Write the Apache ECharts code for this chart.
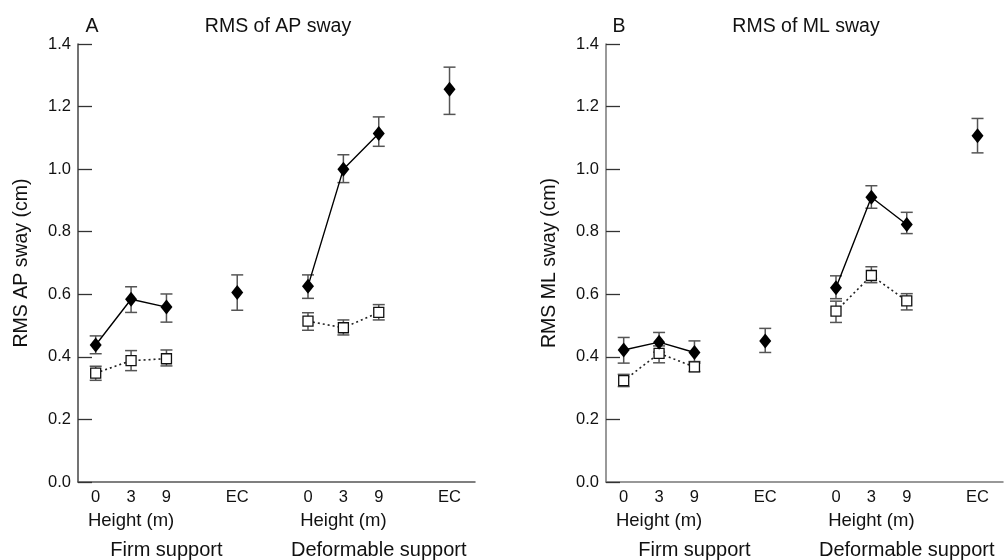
<!DOCTYPE html>
<html>
<head>
<meta charset="utf-8">
<script src="https://cdn.jsdelivr.net/npm/echarts@6/dist/echarts.min.js"></script>
<style>
  html, body { margin: 0; padding: 0; background: #fff; }
  #chart { width: 1004px; height: 560px; }
</style>
</head>
<body>
<div id="chart"></div>
<script>
// x slots: 0,3,9 firm | EC | 0,3,9 deformable | EC
const slotX = [0, 1, 2, 4, 6, 7, 8, 10]
const slotLabels = ['0', '3', '9', 'EC', '0', '3', '9', 'EC']
const heightX = [1, 7]
const heightLabels = ['Height (m)', 'Height (m)']
const supportX = [2, 8]
const supportLabels = ['Firm support', 'Deformable support']
const yTicks = [0, 0.2, 0.4, 0.6, 0.8, 1.0, 1.2, 1.4]

// panel A: RMS of AP sway (filled diamonds: 8 slots, open squares: 6 height slots)
const apFilled = [0.438, 0.584, 0.559, 0.606, 0.626, 1.000, 1.114, 1.255]
const apFilledLow = [0.410, 0.542, 0.511, 0.549, 0.587, 0.957, 1.073, 1.175]
const apFilledHigh = [0.467, 0.624, 0.601, 0.662, 0.662, 1.046, 1.167, 1.326]
const apOpen = [0.348, 0.388, 0.394, 0.514, 0.493, 0.542]
const apOpenLow = [0.325, 0.356, 0.371, 0.485, 0.470, 0.518]
const apOpenHigh = [0.370, 0.420, 0.422, 0.541, 0.518, 0.567]

// panel B: RMS of ML sway
const mlFilled = [0.422, 0.447, 0.414, 0.451, 0.621, 0.910, 0.823, 1.107]
const mlFilledLow = [0.380, 0.415, 0.380, 0.414, 0.586, 0.875, 0.794, 1.052]
const mlFilledHigh = [0.462, 0.478, 0.451, 0.491, 0.659, 0.947, 0.862, 1.162]
const mlOpen = [0.324, 0.411, 0.368, 0.546, 0.660, 0.579]
const mlOpenLow = [0.305, 0.381, 0.353, 0.510, 0.637, 0.550]
const mlOpenHigh = [0.344, 0.435, 0.385, 0.578, 0.688, 0.602]

const font = 'Liberation Sans, Arial, sans-serif'
const heightSlots = [0, 1, 2, 4, 5, 6] // indexes into slotX for height conditions

function errorSeries (idx, xs, low, high, z) {
    return {
        type: 'custom',
        xAxisIndex: idx,
        yAxisIndex: idx,
        z: z,
        silent: true,
        data: xs.map((x, i) => [x, low[i], high[i]]),
        encode: { x: 0, y: [1, 2] },
        renderItem (params, api) {
            const lo = api.coord([api.value(0), api.value(1)])
            const hi = api.coord([api.value(0), api.value(2)])
            const w = 6
            const style = { stroke: '#555', lineWidth: 1.5 }
            return {
                type: 'group',
                children: [
                    { type: 'line', shape: { x1: lo[0], y1: lo[1], x2: hi[0], y2: hi[1] }, style },
                    { type: 'line', shape: { x1: lo[0] - w, y1: lo[1], x2: lo[0] + w, y2: lo[1] }, style },
                    { type: 'line', shape: { x1: hi[0] - w, y1: hi[1], x2: hi[0] + w, y2: hi[1] }, style }
                ]
            }
        }
    }
}

function panelSeries (idx, filled, fLow, fHigh, open, oLow, oHigh) {
    const pts = filled.map((v, i) => [slotX[i], v])
    const openX = heightSlots.map(i => slotX[i])
    const openPts = open.map((v, i) => [openX[i], v])
    const diamond = {
        symbol: 'diamond',
        symbolSize: [12, 15],
        itemStyle: { color: '#000', opacity: 1 }
    }
    const square = {
        symbol: 'rect',
        symbolSize: 10,
        itemStyle: { color: '#fff', borderColor: '#111', borderWidth: 1.3, opacity: 1 }
    }
    const base = { xAxisIndex: idx, yAxisIndex: idx, silent: true, animation: false }
    return [
        errorSeries(idx, slotX, fLow, fHigh, 1),
        errorSeries(idx, openX, oLow, oHigh, 1),
        Object.assign({ type: 'line', data: openPts.slice(0, 3), z: 3,
            lineStyle: { color: '#222', width: 1.6, type: [2, 3] } }, square, base),
        Object.assign({ type: 'line', data: openPts.slice(3), z: 3,
            lineStyle: { color: '#222', width: 1.6, type: [2, 3] } }, square, base),
        Object.assign({ type: 'line', data: pts.slice(0, 3), z: 4,
            lineStyle: { color: '#000', width: 1.4 } }, diamond, base),
        Object.assign({ type: 'line', data: pts.slice(4, 7), z: 4,
            lineStyle: { color: '#000', width: 1.4 } }, diamond, base),
        Object.assign({ type: 'scatter', data: [pts[3], pts[7]], z: 4 }, diamond, base)
    ]
}

// one x axis per text row (tick values, "Height (m)", support type)
function xAxisFor (idx, values, labels, fontSize, margin, lineColor) {
    return {
        type: 'value',
        gridIndex: idx,
        position: 'bottom',
        min: -0.5,
        max: 10.72,
        splitLine: { show: false },
        axisTick: { show: false },
        axisLine: { show: !!lineColor, onZero: false, lineStyle: { color: lineColor || '#000', width: 1.5 } },
        axisLabel: {
            customValues: values,
            showMinLabel: true,
            showMaxLabel: true,
            hideOverlap: false,
            margin: margin,
            fontSize: fontSize,
            color: '#111',
            fontFamily: font,
            formatter: v => labels[values.indexOf(v)] || ''
        }
    }
}

function yAxisFor (idx, name, lineColor) {
    return {
        type: 'value',
        gridIndex: idx,
        min: 0,
        max: 1.4,
        interval: 0.2,
        name: name,
        nameLocation: 'middle',
        nameGap: 46,
        nameTextStyle: { fontSize: 19.5, color: '#111', fontFamily: font },
        splitLine: { show: false },
        axisLine: { onZero: false, lineStyle: { color: lineColor, width: 1.5 } },
        axisTick: { inside: true, length: 14, lineStyle: { color: '#333', width: 1.3 } },
        axisLabel: {
            margin: 7,
            fontSize: 16.5,
            color: '#111',
            fontFamily: font,
            formatter: v => v.toFixed(1)
        }
    }
}

const titleStyle = { fontSize: 19.5, fontWeight: 'normal', color: '#111', fontFamily: font }
const chart = echarts.init(document.getElementById('chart'))
const option = {
    backgroundColor: '#fff',
    animation: false,
    title: [
        { text: 'A', left: 87, top: 12, textAlign: 'center', textStyle: titleStyle },
        { text: 'RMS of AP sway', left: 273, top: 12, textAlign: 'center', textStyle: titleStyle },
        { text: 'B', left: 614, top: 12, textAlign: 'center', textStyle: titleStyle },
        { text: 'RMS of ML sway', left: 801, top: 12, textAlign: 'center', textStyle: titleStyle }
    ],
    grid: [
        { left: 78, top: 44, width: 397, height: 438, outerBoundsMode: 'none' },
        { left: 606, top: 44, width: 397, height: 438, outerBoundsMode: 'none' }
    ],
    xAxis: [
        xAxisFor(0, slotX, slotLabels, 16.5, 7, '#555'),
        xAxisFor(1, slotX, slotLabels, 16.5, 7, '#777'),
        xAxisFor(0, heightX, heightLabels, 18.5, 29),
        xAxisFor(1, heightX, heightLabels, 18.5, 29),
        xAxisFor(0, supportX, supportLabels, 20, 58),
        xAxisFor(1, supportX, supportLabels, 20, 58)
    ],
    yAxis: [yAxisFor(0, 'RMS AP sway (cm)', '#444'), yAxisFor(1, 'RMS ML sway (cm)', '#777')],
    series: [].concat(
        panelSeries(0, apFilled, apFilledLow, apFilledHigh, apOpen, apOpenLow, apOpenHigh),
        panelSeries(1, mlFilled, mlFilledLow, mlFilledHigh, mlOpen, mlOpenLow, mlOpenHigh)
    )
}
chart.setOption(option)
</script>
</body>
</html>
